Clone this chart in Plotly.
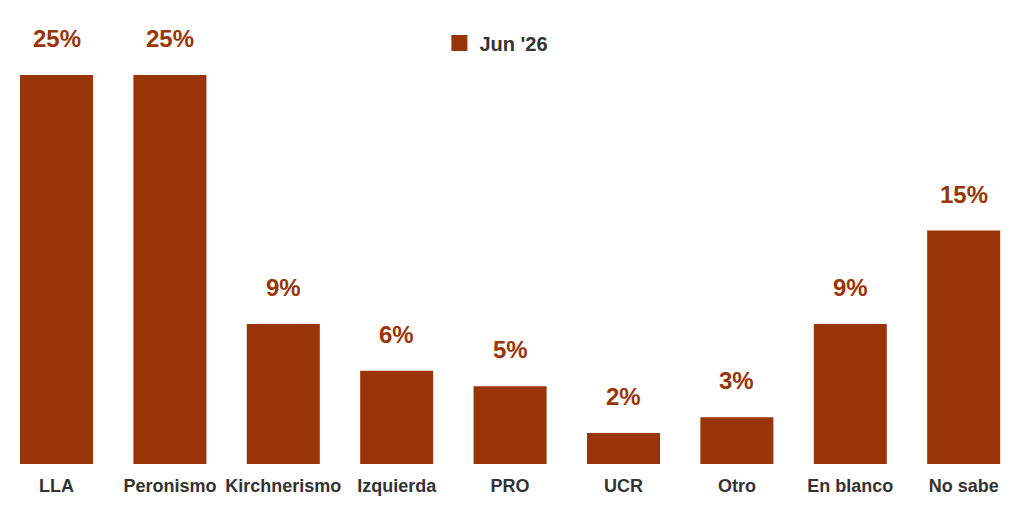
import plotly.graph_objects as go

categories = ["LLA", "Peronismo", "Kirchnerismo", "Izquierda", "PRO", "UCR", "Otro", "En blanco", "No sabe"]
values = [25, 25, 9, 6, 5, 2, 3, 9, 15]
labels = ["25%", "25%", "9%", "6%", "5%", "2%", "3%", "9%", "15%"]
series_name = "Jun '26"

BAR = "#993508"
FONT = "Liberation Sans, Arial, sans-serif"

fig = go.Figure()
fig.add_trace(go.Bar(x=categories, y=values, name=series_name,
                     marker_color=BAR, marker_line_width=0, showlegend=False))
# legend entry for the series (square swatch)
fig.add_trace(go.Scatter(x=[None], y=[None], mode="markers", name="<b>" + series_name + "</b>",
                         marker=dict(symbol="square", size=16, color=BAR), showlegend=True))

for c, v, t in zip(categories, values, labels):
    fig.add_annotation(x=c, y=v, text="<b>%s</b>" % t, showarrow=False,
                       yanchor="bottom", yshift=21,
                       font=dict(size=24, color=BAR, family=FONT))

fig.update_layout(
    width=1016, height=503,
    margin=dict(l=0, r=0, t=20, b=47, autoexpand=False),
    plot_bgcolor="white", paper_bgcolor="white",
    bargap=0.356,
    font=dict(family=FONT, color="#333333"),
    showlegend=True,
    legend=dict(orientation="h", x=0.4246, xanchor="left", y=0.9656, yanchor="middle",
                itemsizing="trace",
                font=dict(size=20, color="#333333", family=FONT),
                bgcolor="rgba(0,0,0,0)"),
    xaxis=dict(range=[-0.4277, 8.532], showgrid=False, showline=False, ticks="",
               zeroline=False, ticklabelstandoff=9,
               tickprefix="<b>", ticksuffix="</b>",
               tickfont=dict(size=18, color="#333333", family=FONT)),
    yaxis=dict(range=[0, 28.02], visible=False, showgrid=False, zeroline=False),
)

fig.write_html("out.html")
